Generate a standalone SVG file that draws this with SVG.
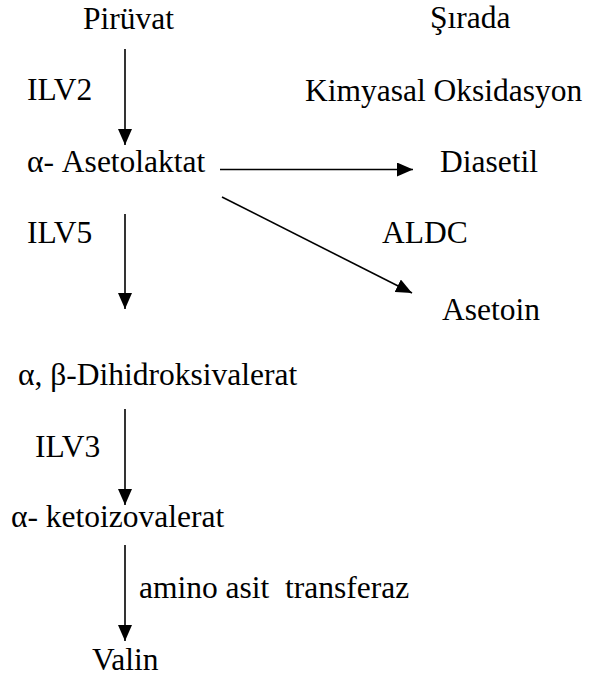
<svg xmlns="http://www.w3.org/2000/svg" width="595" height="679" viewBox="0 0 595 679">
<style>
.t text{font-size:31.5px;fill:#000}
.c{stroke:#000;stroke-width:1.6;fill:none}
</style>
<defs>
<marker id="ah" markerUnits="userSpaceOnUse" markerWidth="16" markerHeight="14" refX="16" refY="7" orient="auto">
<path d="M0,0 L16,7 L0,14 z" fill="#000"/>
</marker>
</defs>
<rect width="595" height="679" fill="#fff"/>
<g id="connectors">
<line class="c" x1="125" y1="49" x2="125" y2="145" marker-end="url(#ah)"/>
<line class="c" x1="220" y1="169.5" x2="413" y2="169.5" marker-end="url(#ah)"/>
<line class="c" x1="222" y1="197" x2="412" y2="293" marker-end="url(#ah)"/>
<line class="c" x1="125" y1="214" x2="125" y2="309" marker-end="url(#ah)"/>
<line class="c" x1="125" y1="409" x2="125" y2="505" marker-end="url(#ah)"/>
<line class="c" x1="125" y1="545" x2="125" y2="641" marker-end="url(#ah)"/>
</g>
<g class="t" font-family="Liberation Serif, Tinos, Times New Roman, serif">
<g id="piruvat"><text x="83" y="29">Pirüvat</text></g>
<g id="sirada"><text x="430" y="28">Şırada</text></g>
<g id="ilv2"><text x="27" y="100">ILV2</text></g>
<g id="kimyasal"><text x="305" y="101">Kimyasal Oksidasyon</text></g>
<g id="asetolaktat"><text x="27" y="172">α- Asetolaktat</text></g>
<g id="diasetil"><text x="440" y="172">Diasetil</text></g>
<g id="aldc"><text x="382" y="243">ALDC</text></g>
<g id="ilv5"><text x="27" y="243">ILV5</text></g>
<g id="asetoin"><text x="442" y="320">Asetoin</text></g>
<g id="dihidroksivalerat"><text x="18" y="385">α, β-Dihidroksivalerat</text></g>
<g id="ilv3"><text x="35" y="457">ILV3</text></g>
<g id="ketoizovalerat"><text x="11" y="527">α- ketoizovalerat</text></g>
<g id="transferaz"><text x="139" y="598" xml:space="preserve">amino asit  transferaz</text></g>
<g id="valin"><text x="92" y="670">Valin</text></g>
</g>
</svg>
